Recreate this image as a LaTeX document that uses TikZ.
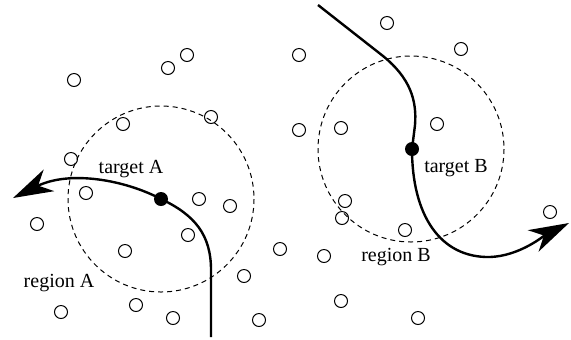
\documentclass[tikz,border=0pt]{standalone}
\usepackage{fontspec}
\setmainfont{Liberation Serif}
\usetikzlibrary{arrows.meta}

\begin{document}
\begin{tikzpicture}[x=0.5pt,y=-0.5pt,
  pt/.style={line width=0.5pt},
  zone/.style={line width=0.5pt,dash pattern=on 2.5pt off 2pt},
  track/.style={line width=1.2pt,-{Stealth[length=20pt,width=12pt,inset=6pt]}},
  dot/.style={circle,fill,inner sep=0pt,minimum size=7pt},
  lbl/.style={font=\fontsize{10}{12}\selectfont,inner sep=0pt}]
\useasboundingbox (0,0) rectangle (571,339);
\draw[zone] (161,199) circle[radius=93];
\draw[zone] (411,149) circle[radius=93];
\draw[pt] (187,55) circle[radius=6.5];
\draw[pt] (168,68) circle[radius=6.5];
\draw[pt] (74,80) circle[radius=6.5];
\draw[pt] (123,124) circle[radius=6.5];
\draw[pt] (211,117) circle[radius=6.5];
\draw[pt] (71,159) circle[radius=6.5];
\draw[pt] (86,193) circle[radius=6.5];
\draw[pt] (199,199) circle[radius=6.5];
\draw[pt] (230,206) circle[radius=6.5];
\draw[pt] (37,224) circle[radius=6.5];
\draw[pt] (188,235) circle[radius=6.5];
\draw[pt] (125,251) circle[radius=6.5];
\draw[pt] (280,249) circle[radius=6.5];
\draw[pt] (244,276) circle[radius=6.5];
\draw[pt] (61,312) circle[radius=6.5];
\draw[pt] (136,305) circle[radius=6.5];
\draw[pt] (173,318) circle[radius=6.5];
\draw[pt] (259,320) circle[radius=6.5];
\draw[pt] (387,23) circle[radius=6.5];
\draw[pt] (461,49) circle[radius=6.5];
\draw[pt] (299,55) circle[radius=6.5];
\draw[pt] (299,130) circle[radius=6.5];
\draw[pt] (341,128) circle[radius=6.5];
\draw[pt] (437,124) circle[radius=6.5];
\draw[pt] (345,201) circle[radius=6.5];
\draw[pt] (342,218) circle[radius=6.5];
\draw[pt] (405,230) circle[radius=6.5];
\draw[pt] (550,212) circle[radius=6.5];
\draw[pt] (324,256) circle[radius=6.5];
\draw[pt] (341,301) circle[radius=6.5];
\draw[pt] (418,318) circle[radius=6.5];
\coordinate (a0) at (211,337);
\coordinate (a1) at (211,270);
\coordinate (aEnd) at (13,198);
\coordinate (b0) at (318,5);
\coordinate (b1) at (383,56);
\coordinate (b2) at (415,125);
\coordinate (bEnd) at (569,223);
\coordinate (b3) at (490,257);
\node[dot] (tgtA) at (161,199) {};
\node[dot] (tgtB) at (412,149) {};
\draw[track] (a0) -- (a1) .. controls (211,235) and (195,215) .. (tgtA.center)
  .. controls (125,180) and (70,170) .. (aEnd);
\draw[track] (b0) -- (b1) .. controls (410,78) and (417,100) .. (b2) -- (tgtB.center)
  .. controls (412,215) and (440,258) .. (b3) .. controls (520,256) and (545,235) .. (bEnd);
\node[lbl] (labTA) at (131,169) {target A};
\node[lbl] (labRA) at (59,283) {region A};
\node[lbl] (labTB) at (456,168) {target B};
\node[lbl] (labRB) at (396,257) {region B};
\end{tikzpicture}
\end{document}
